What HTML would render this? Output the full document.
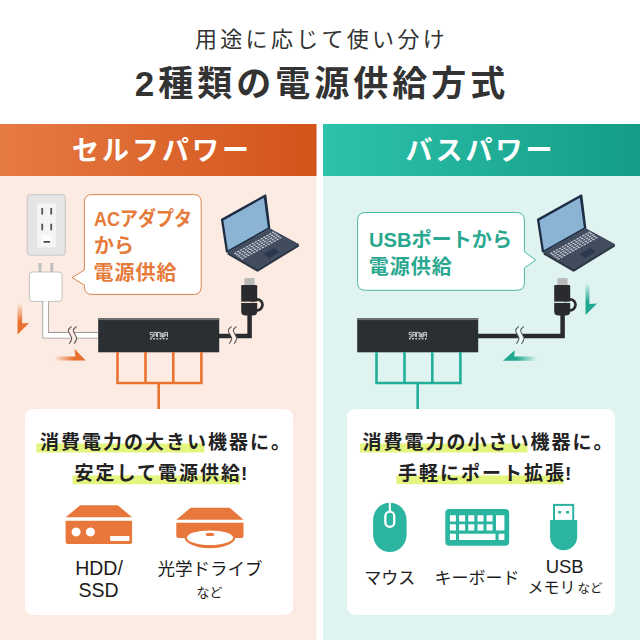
<!DOCTYPE html>
<html lang="ja"><head><meta charset="utf-8"><title>2種類の電源供給方式</title>
<style>html,body{margin:0;padding:0;background:#fff;font-family:"Liberation Sans",sans-serif}body{width:640px;height:640px;overflow:hidden}svg{display:block}svg text{font-family:"Liberation Sans","Noto Sans CJK JP",sans-serif}</style>
</head><body>
<svg width="640" height="640" viewBox="0 0 640 640" role="img" aria-label="2種類の電源供給方式">
<desc>用途に応じて使い分け 2種類の電源供給方式。セルフパワー: ACアダプタから電源供給。消費電力の大きい機器に。安定して電源供給! HDD/SSD、光学ドライブなど。バスパワー: USBポートから電源供給。消費電力の小さい機器に。手軽にポート拡張! マウス、キーボード、USBメモリなど。</desc>
<defs>
<linearGradient id="gO" x1="0" y1="0" x2="1" y2="0"><stop offset="0" stop-color="#e67b43"/><stop offset="1" stop-color="#d2531a"/></linearGradient>
<linearGradient id="gT" x1="0" y1="0" x2="1" y2="0"><stop offset="0" stop-color="#2dc2aa"/><stop offset="1" stop-color="#149c86"/></linearGradient>
<linearGradient id="aOd" gradientUnits="userSpaceOnUse" x1="0" y1="303" x2="0" y2="322"><stop offset="0" stop-color="#e8702f" stop-opacity="0"/><stop offset="1" stop-color="#e8702f"/></linearGradient>
<linearGradient id="aOr" gradientUnits="userSpaceOnUse" x1="54" y1="0" x2="74" y2="0"><stop offset="0" stop-color="#e8702f" stop-opacity="0"/><stop offset="1" stop-color="#e8702f"/></linearGradient>
<linearGradient id="aTd" gradientUnits="userSpaceOnUse" x1="0" y1="283" x2="0" y2="302"><stop offset="0" stop-color="#1fa890" stop-opacity="0"/><stop offset="1" stop-color="#1fa890"/></linearGradient>
<linearGradient id="aTl" gradientUnits="userSpaceOnUse" x1="537" y1="0" x2="516" y2="0"><stop offset="0" stop-color="#1fa890" stop-opacity="0"/><stop offset="1" stop-color="#1fa890"/></linearGradient>
<g id="laptop">
<path d="M221.3 218.8 L264.9 194.6 Q266.2 194 266.4 195.6 L270.4 228.6 L227.4 252.6 Q226 253 225.8 251.6 L221 220.2 Q220.9 219.2 221.3 218.8Z" fill="#1d2d44"/>
<path d="M223.4 220.4 L263.8 197.8 L267.9 227.8 L227.9 250.2Z" fill="#8bb3d3"/>
<path d="M227.6 252.6 L270.3 228.8 L298.9 244.2 L298.9 246.4 L258.2 271.6 Q257.6 271.9 257 271.5 L227.6 254.6Z" fill="#2b3544"/>
<path d="M227.6 252.6 L270.3 228.8 L298.9 244.2 L257.8 269.4Z" fill="#414d5f"/>
<path d="M263.5 253.9 L274 248.1 L279.6 252.1 L269.2 258.2Z" fill="#2a3850"/>
<path d="M233.7 253.3l2.0 -1.1l1.25 .85l-2.0 1.1zM236.6 251.7l2.0 -1.1l1.25 .85l-2.0 1.1zM239.5 250.1l2.0 -1.1l1.25 .85l-2.0 1.1zM242.4 248.5l2.0 -1.1l1.25 .85l-2.0 1.1zM245.3 246.9l2.0 -1.1l1.25 .85l-2.0 1.1zM248.2 245.3l2.0 -1.1l1.25 .85l-2.0 1.1zM251.2 243.7l2.0 -1.1l1.25 .85l-2.0 1.1zM254.1 242.1l2.0 -1.1l1.25 .85l-2.0 1.1zM257.0 240.5l2.0 -1.1l1.25 .85l-2.0 1.1zM259.9 238.9l2.0 -1.1l1.25 .85l-2.0 1.1zM262.8 237.3l2.0 -1.1l1.25 .85l-2.0 1.1zM265.7 235.7l2.0 -1.1l1.25 .85l-2.0 1.1zM268.6 234.1l2.0 -1.1l1.25 .85l-2.0 1.1zM271.6 232.4l2.0 -1.1l1.25 .85l-2.0 1.1zM235.5 254.7l2.0 -1.1l1.25 .85l-2.0 1.1zM238.4 253.1l2.0 -1.1l1.25 .85l-2.0 1.1zM241.3 251.5l2.0 -1.1l1.25 .85l-2.0 1.1zM244.2 249.9l2.0 -1.1l1.25 .85l-2.0 1.1zM247.1 248.3l2.0 -1.1l1.25 .85l-2.0 1.1zM250.1 246.7l2.0 -1.1l1.25 .85l-2.0 1.1zM253.0 245.1l2.0 -1.1l1.25 .85l-2.0 1.1zM255.9 243.5l2.0 -1.1l1.25 .85l-2.0 1.1zM258.8 241.9l2.0 -1.1l1.25 .85l-2.0 1.1zM261.7 240.3l2.0 -1.1l1.25 .85l-2.0 1.1zM264.6 238.6l2.0 -1.1l1.25 .85l-2.0 1.1zM267.5 237.0l2.0 -1.1l1.25 .85l-2.0 1.1zM270.5 235.4l2.0 -1.1l1.25 .85l-2.0 1.1zM273.4 233.8l2.0 -1.1l1.25 .85l-2.0 1.1zM237.3 256.1l2.0 -1.1l1.25 .85l-2.0 1.1zM240.2 254.5l2.0 -1.1l1.25 .85l-2.0 1.1zM243.1 252.9l2.0 -1.1l1.25 .85l-2.0 1.1zM246.1 251.3l2.0 -1.1l1.25 .85l-2.0 1.1zM249.0 249.7l2.0 -1.1l1.25 .85l-2.0 1.1zM251.9 248.1l2.0 -1.1l1.25 .85l-2.0 1.1zM254.8 246.5l2.0 -1.1l1.25 .85l-2.0 1.1zM257.7 244.8l2.0 -1.1l1.25 .85l-2.0 1.1zM260.6 243.2l2.0 -1.1l1.25 .85l-2.0 1.1zM263.5 241.6l2.0 -1.1l1.25 .85l-2.0 1.1zM266.5 240.0l2.0 -1.1l1.25 .85l-2.0 1.1zM269.4 238.4l2.0 -1.1l1.25 .85l-2.0 1.1zM272.3 236.8l2.0 -1.1l1.25 .85l-2.0 1.1zM275.2 235.2l2.0 -1.1l1.25 .85l-2.0 1.1zM239.1 257.5l2.0 -1.1l1.25 .85l-2.0 1.1zM242.0 255.9l2.0 -1.1l1.25 .85l-2.0 1.1zM245.0 254.3l2.0 -1.1l1.25 .85l-2.0 1.1zM247.9 252.7l2.0 -1.1l1.25 .85l-2.0 1.1zM250.8 251.0l2.0 -1.1l1.25 .85l-2.0 1.1zM253.7 249.4l2.0 -1.1l1.25 .85l-2.0 1.1zM256.6 247.8l2.0 -1.1l1.25 .85l-2.0 1.1zM259.5 246.2l2.0 -1.1l1.25 .85l-2.0 1.1zM262.4 244.6l2.0 -1.1l1.25 .85l-2.0 1.1zM265.4 243.0l2.0 -1.1l1.25 .85l-2.0 1.1zM268.3 241.4l2.0 -1.1l1.25 .85l-2.0 1.1zM271.2 239.8l2.0 -1.1l1.25 .85l-2.0 1.1zM274.1 238.2l2.0 -1.1l1.25 .85l-2.0 1.1zM277.0 236.6l2.0 -1.1l1.25 .85l-2.0 1.1zM240.9 258.9l2.0 -1.1l1.25 .85l-2.0 1.1zM243.9 257.2l2.0 -1.1l1.25 .85l-2.0 1.1zM246.8 255.6l2.0 -1.1l1.25 .85l-2.0 1.1zM249.7 254.0l2.0 -1.1l1.25 .85l-2.0 1.1zM252.6 252.4l2.0 -1.1l1.25 .85l-2.0 1.1zM255.5 250.8l2.0 -1.1l1.25 .85l-2.0 1.1zM258.4 249.2l2.0 -1.1l1.25 .85l-2.0 1.1zM261.3 247.6l2.0 -1.1l1.25 .85l-2.0 1.1zM264.3 246.0l2.0 -1.1l1.25 .85l-2.0 1.1zM267.2 244.4l2.0 -1.1l1.25 .85l-2.0 1.1zM270.1 242.8l2.0 -1.1l1.25 .85l-2.0 1.1zM273.0 241.2l2.0 -1.1l1.25 .85l-2.0 1.1zM275.9 239.6l2.0 -1.1l1.25 .85l-2.0 1.1zM278.8 238.0l2.0 -1.1l1.25 .85l-2.0 1.1z" fill="#c3c9d2"/>
</g>
</defs>
<rect width="640" height="640" fill="#fff"/>
<rect x="0" y="124" width="316.5" height="516" fill="#fcebe3"/>
<rect x="323" y="124" width="317" height="516" fill="#dff3f0"/>
<rect x="0" y="124" width="316.5" height="52" fill="url(#gO)"/>
<rect x="323" y="124" width="317" height="52" fill="url(#gT)"/>
<text x="321.5" y="47" font-size="22" letter-spacing="3.3" fill="#333" text-anchor="middle">用途に応じて使い分け</text>
<text x="322" y="96" font-size="35" font-weight="bold" letter-spacing="4" fill="#333" text-anchor="middle">2種類の電源供給方式</text>
<text x="162" y="160" font-size="27" font-weight="bold" letter-spacing="3" fill="#fff" text-anchor="middle">セルフパワー</text>
<text x="480.5" y="160" font-size="27" font-weight="bold" letter-spacing="3" fill="#fff" text-anchor="middle">バスパワー</text>
<rect x="27.3" y="194.6" width="38" height="60.6" rx="3.2" fill="#e5e5e7" stroke="#c6c1bf" stroke-width="0.9"/>
<rect x="37" y="203.5" width="19" height="44" rx="1" fill="#f4f4f4"/>
<path d="M41.3 208h1.8v6.4h-1.8zM50.3 208h1.8v6.4h-1.8zM41.3 223.8h1.8v6.4h-1.8zM50.3 223.8h1.8v6.4h-1.8z" fill="#555"/>
<rect x="41.3" y="235" width="10.8" height="8.6" fill="#fdfdfd"/>
<rect x="43.4" y="241" width="6.8" height="1.7" rx="0.8" fill="#444"/>
<path d="M38.6 263h2.8v9.5h-2.8zM50.4 263h2.8v9.5h-2.8z" fill="#bcbcbc"/>
<rect x="29.4" y="272" width="32.6" height="29.4" rx="3" fill="#fff" stroke="#b5b5b5" stroke-width="0.8"/>
<path d="M45.6 301.6V335.3H98.5" fill="none" stroke="#999" stroke-width="6.4"/>
<path d="M45.6 301.2V335.3H98.5" fill="none" stroke="#fff" stroke-width="4.8"/>
<path d="M17.5 303H22.2V323.6L29 323L17.5 334.6Z" fill="url(#aOd)"/>
<path d="M54 356.4H75.4L74.6 349L85.8 360.4H54Z" fill="url(#aOr)"/>
<rect x="98.2" y="318.3" width="121" height="34" fill="#2b2e32"/>
<rect x="98.2" y="318.3" width="121" height="1.8" fill="#6f7072"/>
<path d="M117.5 352V383M145.5 352V383M173.3 352V383M201.4 352V383M116.2 383H202.7M158.7 383V409" fill="none" stroke="#e8732f" stroke-width="2.6"/>
<path d="M152.90 332.40L150.20 332.40L150.20 334.70L152.90 334.70L152.90 337.00L150.20 337.00M153.85 337.00L153.85 332.40L156.55 332.40L156.55 337.00M153.85 334.93L156.55 334.93M157.50 337.00L157.50 332.40L160.20 332.40L160.20 337.00M161.15 332.40L161.15 337.00L163.85 337.00L163.85 332.40M162.50 333.32L162.50 337.00M164.80 337.00L164.80 332.40L167.50 332.40L167.50 337.00M164.80 334.93L167.50 334.93" fill="none" stroke="#d2d2d2" stroke-width="0.95" stroke-linejoin="miter"/>
<path d="M149.90 338.1h1.9v1.5h-1.9zM153.10 338.1h1.9v1.5h-1.9zM156.30 338.1h1.9v1.5h-1.9zM159.50 338.1h1.9v1.5h-1.9zM162.70 338.1h1.9v1.5h-1.9zM165.90 338.1h1.9v1.5h-1.9z" fill="#c4c4c4"/>
<path d="M218.5 335.9H249.6V314" fill="none" stroke="#2a2b2e" stroke-width="4.5"/>
<rect x="244.4" y="278.1" width="10.2" height="8" fill="#b9b9b9"/>
<circle cx="257.0" cy="304.8" r="5.5" fill="none" stroke="#2a2b2e" stroke-width="2.7"/>
<path d="M241.2 286.2q0 -1.2 1.2 -1.2h13.6q1.2 0 1.2 1.2V301.8H241.2Z" fill="#2a2b2e"/>
<path d="M241.2 302.9h16V311.2q0 4.4 -4.4 4.4h-7.2q-4.4 0 -4.4 -4.4Z" fill="#2a2b2e"/>
<rect x="241.2" y="301.8" width="16" height="1.1" fill="#f6dccf"/>
<path d="M71.30 326.8C69.50 328 68.20 329.5 68.40 331C68.80 333.5 71.50 335.8 71.70 338.3C71.80 340.3 70.60 342 69.40 343.4L74.35 343.4C75.55 342 76.75 340.3 76.65 338.3C76.45 335.8 73.75 333.5 73.35 331C73.15 329.5 74.45 328 76.25 326.8Z" fill="#fcebe3"/>
<path d="M71.30 326.8C69.50 328 68.20 329.5 68.40 331C68.80 333.5 71.50 335.8 71.70 338.3C71.80 340.3 70.60 342 69.40 343.4M76.25 326.8C74.45 328 73.15 329.5 73.35 331C73.75 333.5 76.45 335.8 76.65 338.3C76.75 340.3 75.55 342 74.35 343.4" fill="none" stroke="#655c5a" stroke-width="1.1" stroke-linecap="round"/>
<path d="M231.30 326.8C229.50 328 228.20 329.5 228.40 331C228.80 333.5 231.50 335.8 231.70 338.3C231.80 340.3 230.60 342 229.40 343.4L234.35 343.4C235.55 342 236.75 340.3 236.65 338.3C236.45 335.8 233.75 333.5 233.35 331C233.15 329.5 234.45 328 236.25 326.8Z" fill="#fdf1ea"/>
<path d="M231.30 326.8C229.50 328 228.20 329.5 228.40 331C228.80 333.5 231.50 335.8 231.70 338.3C231.80 340.3 230.60 342 229.40 343.4M236.25 326.8C234.45 328 233.15 329.5 233.35 331C233.75 333.5 236.45 335.8 236.65 338.3C236.75 340.3 235.55 342 234.35 343.4" fill="none" stroke="#655c5a" stroke-width="1.1" stroke-linecap="round"/>
<use href="#laptop"/>
<path d="M92 194.6H193.6Q201.2 194.6 201.2 202.2V286.8Q201.2 294.4 193.6 294.4H92Q84.4 294.4 84.4 286.8V285L72.2 277.6L84.4 270V202.2Q84.4 194.6 92 194.6Z" fill="#fff" stroke="#d9854f" stroke-width="1"/>
<text x="94" y="225.6" font-size="20" font-weight="bold" fill="#e57a3a" textLength="98" lengthAdjust="spacingAndGlyphs">ACアダプタ</text>
<text x="94" y="253" font-size="20" font-weight="bold" fill="#e57a3a">から</text>
<text x="93.5" y="280" font-size="20" font-weight="bold" letter-spacing="1" fill="#e57a3a">電源供給</text>
<rect x="357.2" y="318.3" width="121" height="34" fill="#2b2e32"/>
<rect x="357.2" y="318.3" width="121" height="1.8" fill="#6f7072"/>
<path d="M376.5 352V383M404.5 352V383M432.3 352V383M460.4 352V383M375.2 383H461.7M417.7 383V409" fill="none" stroke="#22ae98" stroke-width="2.6"/>
<path d="M411.90 332.40L409.20 332.40L409.20 334.70L411.90 334.70L411.90 337.00L409.20 337.00M412.85 337.00L412.85 332.40L415.55 332.40L415.55 337.00M412.85 334.93L415.55 334.93M416.50 337.00L416.50 332.40L419.20 332.40L419.20 337.00M420.15 332.40L420.15 337.00L422.85 337.00L422.85 332.40M421.50 333.32L421.50 337.00M423.80 337.00L423.80 332.40L426.50 332.40L426.50 337.00M423.80 334.93L426.50 334.93" fill="none" stroke="#d2d2d2" stroke-width="0.95" stroke-linejoin="miter"/>
<path d="M408.90 338.1h1.9v1.5h-1.9zM412.10 338.1h1.9v1.5h-1.9zM415.30 338.1h1.9v1.5h-1.9zM418.50 338.1h1.9v1.5h-1.9zM421.70 338.1h1.9v1.5h-1.9zM424.90 338.1h1.9v1.5h-1.9z" fill="#c4c4c4"/>
<path d="M478.0 335.9H562.6V314" fill="none" stroke="#2a2b2e" stroke-width="4.5"/>
<rect x="557.4" y="278.1" width="10.2" height="8" fill="#b9b9b9"/>
<circle cx="570.0" cy="304.8" r="5.5" fill="none" stroke="#2a2b2e" stroke-width="2.7"/>
<path d="M554.2 286.2q0 -1.2 1.2 -1.2h13.6q1.2 0 1.2 1.2V301.8H554.2Z" fill="#2a2b2e"/>
<path d="M554.2 302.9h16V311.2q0 4.4 -4.4 4.4h-7.2q-4.4 0 -4.4 -4.4Z" fill="#2a2b2e"/>
<rect x="554.2" y="301.8" width="16" height="1.1" fill="#cfe6e2"/>
<path d="M518.60 326.8C516.80 328 515.50 329.5 515.70 331C516.10 333.5 518.80 335.8 519.00 338.3C519.10 340.3 517.90 342 516.70 343.4L521.65 343.4C522.85 342 524.05 340.3 523.95 338.3C523.75 335.8 521.05 333.5 520.65 331C520.45 329.5 521.75 328 523.55 326.8Z" fill="#eef9f7"/>
<path d="M518.60 326.8C516.80 328 515.50 329.5 515.70 331C516.10 333.5 518.80 335.8 519.00 338.3C519.10 340.3 517.90 342 516.70 343.4M523.55 326.8C521.75 328 520.45 329.5 520.65 331C521.05 333.5 523.75 335.8 523.95 338.3C524.05 340.3 522.85 342 521.65 343.4" fill="none" stroke="#5c6564" stroke-width="1.1" stroke-linecap="round"/>
<use href="#laptop" x="316"/>
<path d="M585.5 283H589.4V304L597.2 303.4L585.5 315Z" fill="url(#aTd)"/>
<path d="M537 356.6H514.2L514.8 350.2L503 360.8H537Z" fill="url(#aTl)"/>
<path d="M365.4 212.5H516.6Q524.4 212.5 524.4 220.3V251.6L535.6 260.2L524.4 268V282.5Q524.4 290.3 516.6 290.3H365.4Q357.6 290.3 357.6 282.5V220.3Q357.6 212.5 365.4 212.5Z" fill="#fff" stroke="#4db8a3" stroke-width="1"/>
<text x="369" y="246.8" font-size="20" font-weight="bold" fill="#2aa88f" textLength="143" lengthAdjust="spacingAndGlyphs">USBポートから</text>
<text x="368.8" y="274" font-size="20" font-weight="bold" letter-spacing="1" fill="#2aa88f">電源供給</text>
<rect x="25" y="409" width="268" height="206" rx="8" fill="#fff"/>
<rect x="347" y="409" width="268" height="206" rx="8" fill="#fff"/>
<rect x="36.3" y="443.5" width="168" height="9" fill="#e4f57f"/>
<rect x="72.6" y="475.4" width="167.6" height="8.8" fill="#e4f57f"/>
<rect x="359.9" y="443.5" width="167.6" height="9" fill="#e4f57f"/>
<rect x="396.4" y="475.4" width="167.2" height="8.8" fill="#e4f57f"/>
<text x="40" y="449" font-size="19" font-weight="bold" letter-spacing="2" fill="#222">消費電力の大きい機器に。</text>
<text x="74.5" y="479.5" font-size="19" font-weight="bold" letter-spacing="2" fill="#222">安定して電源供給<tspan dx="-1">!</tspan></text>
<text x="362.5" y="449" font-size="19" font-weight="bold" letter-spacing="2" fill="#222">消費電力の小さい機器に。</text>
<text x="398" y="479.5" font-size="19" font-weight="bold" letter-spacing="2" fill="#222">手軽にポート拡張<tspan dx="-1">!</tspan></text>
<path d="M80.2 505.3H117.8L132.1 517.3H65.6Z" fill="#e8773c"/>
<path fill-rule="evenodd" d="M65.6 520.8H132.1V542q0 2 -2 2H67.6q-2 0 -2 -2ZM76.1 527.4a4.5 4.5 0 1 0 .01 0ZM90.4 527.4a4.5 4.5 0 1 0 .01 0ZM110.2 536H129.4V541H110.2Z" fill="#e8773c"/>
<path d="M190.6 507.8H229.8L243.5 519.8H176.3Z" fill="#e8773c"/>
<path d="M176.3 522.8H243.5V536.1q0 2 -2 2H178.3q-2 0 -2 -2Z" fill="#e8773c"/>
<ellipse cx="210" cy="537.5" rx="25.4" ry="10.7" fill="#e8773c"/>
<ellipse cx="210" cy="537.7" rx="23.1" ry="7.3" fill="#fff"/>
<ellipse cx="210" cy="534.4" rx="4.4" ry="1.7" fill="#e8773c"/>
<text x="99" y="574.5" font-size="19.5" fill="#1c1c1c" text-anchor="middle">HDD/</text>
<text x="98.5" y="597.4" font-size="19.5" fill="#1c1c1c" text-anchor="middle">SSD</text>
<text x="210" y="574.5" font-size="17.5" fill="#1c1c1c" text-anchor="middle">光学ドライブ</text>
<text x="209.6" y="597" font-size="13" fill="#1c1c1c" text-anchor="middle">など</text>
<rect x="373.1" y="502.7" width="33.5" height="49.4" rx="16.75" ry="17.5" fill="#2bb5a0"/>
<path d="M389.85 502.4V511.5" stroke="#fff" stroke-width="2.1" fill="none"/>
<rect x="385.35" y="511.65" width="8.9" height="15.2" rx="4.45" fill="none" stroke="#fff" stroke-width="2.3"/>
<path fill-rule="evenodd" d="M449.3 509.1H505.2q4 0 4 4V541.7q0 4 -4 4H449.3q-4 0 -4 -4V513.1q0 -4 4 -4ZM449.9 515.3h6v6.3h-6ZM449.9 524.3h6v6.3h-6ZM459.1 515.3h6v6.3h-6ZM459.1 524.3h6v6.3h-6ZM468.3 515.3h6v6.3h-6ZM468.3 524.3h6v6.3h-6ZM477.5 515.3h6v6.3h-6ZM477.5 524.3h6v6.3h-6ZM486.6 515.3h6v6.3h-6ZM486.6 524.3h6v6.3h-6ZM496 515.3h8.4v15.3H496ZM449.9 533.7h6v6.3h-6ZM459.1 533.7H495.5v6.3H459.1ZM498.6 533.7h5.8v6.3h-5.8Z" fill="#2bb5a0"/>
<rect x="554" y="504.9" width="19.2" height="16" fill="#fff" stroke="#2bb5a0" stroke-width="2"/>
<path d="M558.1 511h3.1v2.6h-3.1zM566 511h3.1v2.6h-3.1z" fill="#2bb5a0"/>
<path d="M550.1 519.9H577.2V536.7a13.55 13.55 0 0 1 -27.1 0Z" fill="#2bb5a0"/>
<text x="389.7" y="584" font-size="17" fill="#1c1c1c" text-anchor="middle">マウス</text>
<text x="477" y="584" font-size="17" fill="#1c1c1c" text-anchor="middle">キーボード</text>
<text x="564.7" y="572.7" font-size="18.5" fill="#1c1c1c" text-anchor="middle">USB</text>
<text x="527.5" y="593" font-size="16" fill="#1c1c1c">メモリ<tspan font-size="12.5" dx="2">など</tspan></text>
</svg>
</body></html>
